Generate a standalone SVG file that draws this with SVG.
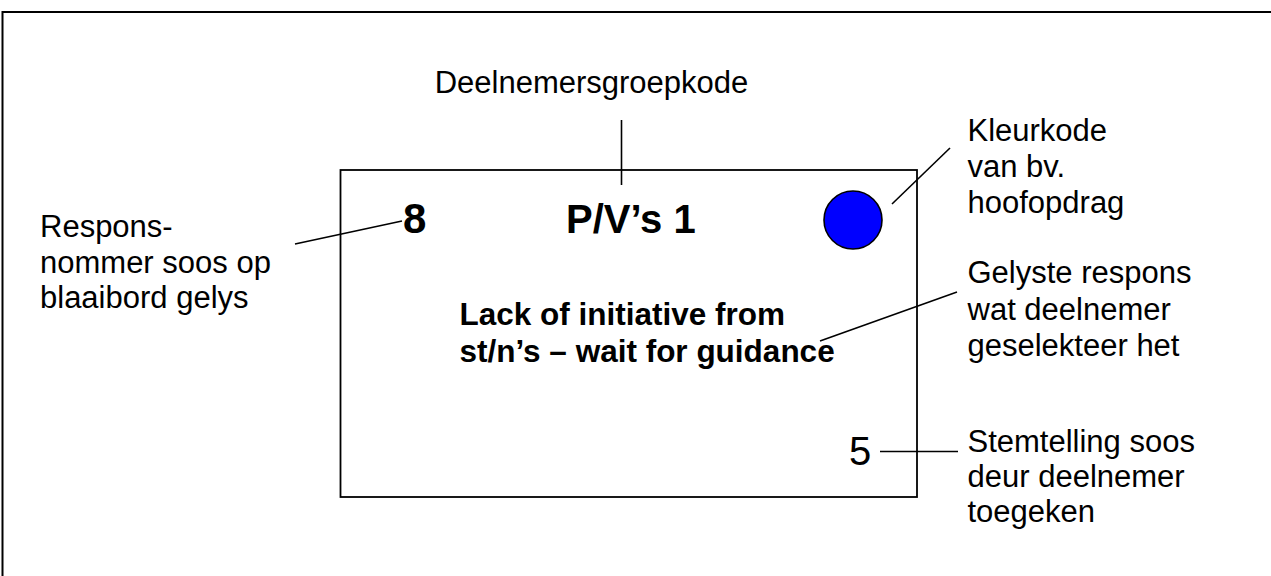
<svg xmlns="http://www.w3.org/2000/svg" width="1271" height="576" viewBox="0 0 1271 576">
<style>
.reg{font-family:"Liberation Sans",Arial,sans-serif;font-size:31px;fill:#000}
.bold{font-family:"Liberation Sans",Arial,sans-serif;font-weight:bold;fill:#000}
.ln{stroke:#000;stroke-width:1.6;fill:none}
</style>
<rect x="0" y="0" width="1271" height="576" fill="#fff"/>
<rect id="frame" x="2.5" y="12" width="1300" height="600" fill="none" stroke="#000" stroke-width="2"/>
<g id="card">
<rect x="340.5" y="170" width="576.5" height="327" fill="#fff" stroke="#000" stroke-width="1.8"/>
<text class="bold" x="403" y="233" font-size="42">8</text>
<text class="bold" x="566" y="233" font-size="40">P/V’s 1</text>
<circle cx="853" cy="220" r="29" fill="#0000ff" stroke="#000" stroke-width="1.6"/>
<text class="bold" x="459.5" y="325" font-size="31.5">Lack of initiative from</text>
<text class="bold" x="459.5" y="362" font-size="31.5">st/n’s – wait for guidance</text>
<text class="reg" x="849" y="465" style="font-size:40px">5</text>
</g>
<g id="label-groep"><text class="reg" x="591.5" y="93" text-anchor="middle">Deelnemersgroepkode</text></g>
<g id="label-respons"><text class="reg" x="40" y="237">Respons-</text><text class="reg" x="40" y="273">nommer soos op</text><text class="reg" x="40" y="308">blaaibord gelys</text></g>
<g id="label-kleur"><text class="reg" x="967.5" y="141">Kleurkode</text><text class="reg" x="967.5" y="177">van bv.</text><text class="reg" x="967.5" y="213">hoofopdrag</text></g>
<g id="label-gelys"><text class="reg" x="967.5" y="283">Gelyste respons</text><text class="reg" x="967.5" y="320">wat deelnemer</text><text class="reg" x="967.5" y="356">geselekteer het</text></g>
<g id="label-stem"><text class="reg" x="967.5" y="452">Stemtelling soos</text><text class="reg" x="967.5" y="487">deur deelnemer</text><text class="reg" x="967.5" y="522">toegeken</text></g>
<g id="connectors">
<line class="ln" x1="621.5" y1="120" x2="621.5" y2="185"/>
<line class="ln" x1="295" y1="244" x2="402" y2="221"/>
<line class="ln" x1="892" y1="204" x2="950" y2="148"/>
<line class="ln" x1="820" y1="341" x2="957" y2="292"/>
<line class="ln" x1="880" y1="451.5" x2="958" y2="451.5"/>
</g>
</svg>
